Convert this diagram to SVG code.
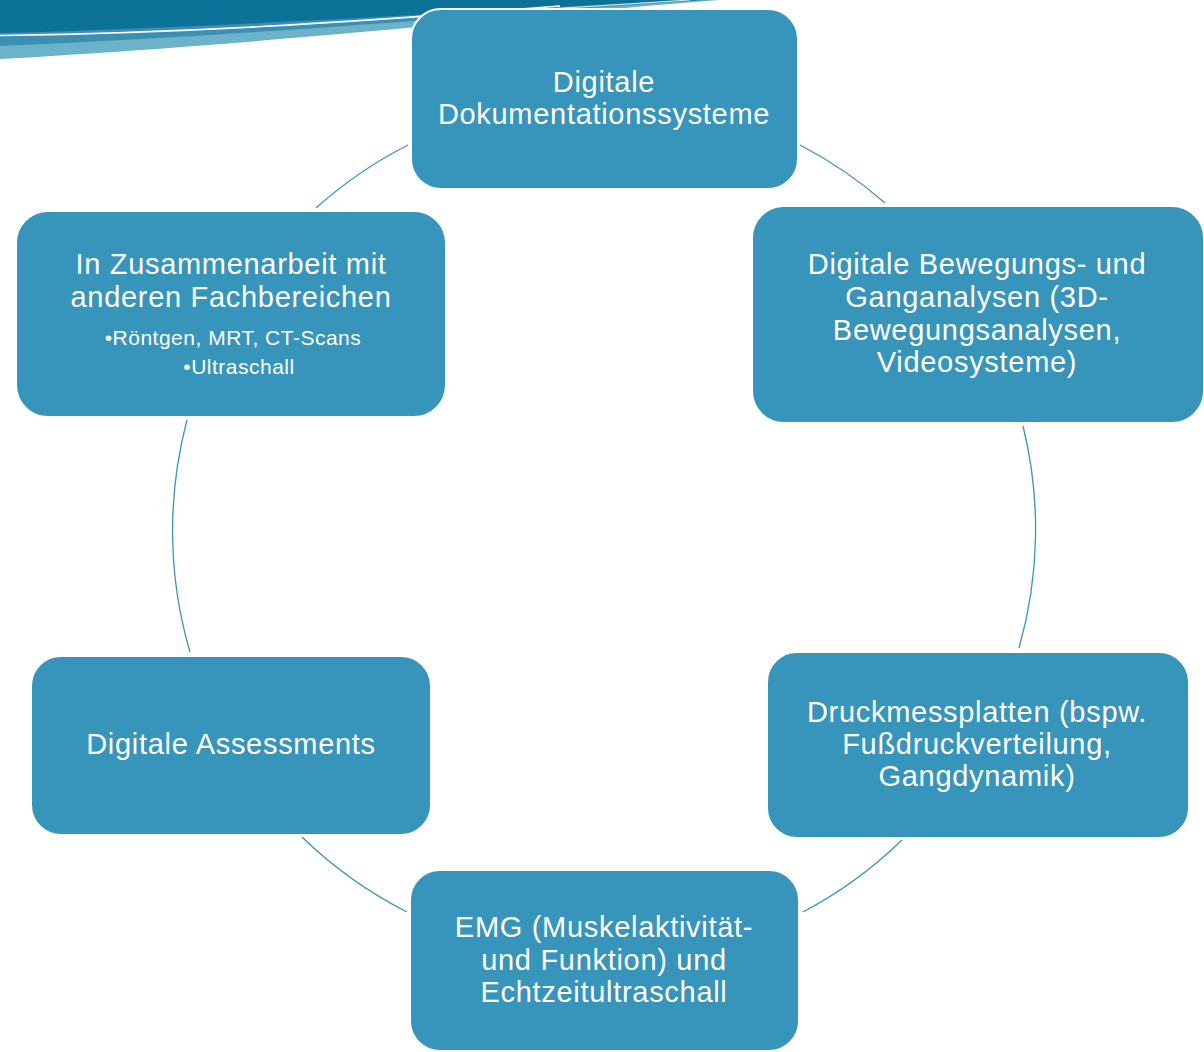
<svg xmlns="http://www.w3.org/2000/svg" width="1204" height="1052" viewBox="0 0 1204 1052">
<style>
.node{fill:#3794bb;stroke:#ffffff;stroke-width:2}
.t{font-family:"Liberation Sans",Arial,sans-serif;font-size:29px;letter-spacing:0.7px;fill:#ffffff;text-anchor:middle}
.s{font-family:"Liberation Sans",Arial,sans-serif;font-size:21px;letter-spacing:0.5px;fill:#ffffff;text-anchor:middle}
.arc{fill:none;stroke:#3a94bb;stroke-width:1.3}
</style>
<rect width="1204" height="1052" fill="#ffffff"/>
<g id="swoosh">
<path d="M0,0 H720 C 560,12 300,42 0,59 Z" fill="#6db2cb"/>
<path d="M0,0 H710 C 540,10 280,34 0,46 Z" fill="#3b8fb1"/>
<path d="M0,0 H700 C 520,8 260,26 0,33 Z" fill="#0d7298"/>
<path d="M0,35.5 C 180,33 330,24 560,6" fill="none" stroke="#ffffff" stroke-width="1.6"/>
<path d="M440,16 C 540,10 620,4 690,0" fill="none" stroke="#cfe6ef" stroke-width="1.2"/>
</g>
<g id="connectors">
<path class="arc" d="M800,145 A431,431 0 0 1 885,203"/>
<path class="arc" d="M1023,426 A431,431 0 0 1 1019,648"/>
<path class="arc" d="M902,840 A431,431 0 0 1 803,912"/>
<path class="arc" d="M407,912 A431,431 0 0 1 302,837"/>
<path class="arc" d="M190,652 A431,431 0 0 1 187,420"/>
<path class="arc" d="M316,208 A431,431 0 0 1 408,145"/>
</g>
<g id="n1">
<rect class="node" x="411" y="9" width="387" height="180" rx="30"/>
<text class="t" x="604" y="92">Digitale</text>
<text class="t" x="604" y="124">Dokumentationssysteme</text>
</g>
<g id="n2">
<rect class="node" x="752" y="206" width="452" height="217" rx="32"/>
<text class="t" x="977" y="274">Digitale Bewegungs- und</text>
<text class="t" x="977" y="307">Ganganalysen (3D-</text>
<text class="t" x="977" y="340">Bewegungsanalysen,</text>
<text class="t" x="977" y="372">Videosysteme)</text>
</g>
<g id="n3">
<rect class="node" x="767" y="652" width="422" height="186" rx="30"/>
<text class="t" x="977" y="722">Druckmessplatten (bspw.</text>
<text class="t" x="977" y="754">Fußdruckverteilung,</text>
<text class="t" x="977" y="786">Gangdynamik)</text>
</g>
<g id="n4">
<rect class="node" x="410" y="870" width="389" height="181" rx="30"/>
<text class="t" x="604" y="937">EMG (Muskelaktivität-</text>
<text class="t" x="604" y="970">und Funktion) und</text>
<text class="t" x="604" y="1002">Echtzeitultraschall</text>
</g>
<g id="n5">
<rect class="node" x="31" y="656" width="400" height="179" rx="30"/>
<text class="t" x="231" y="754">Digitale Assessments</text>
</g>
<g id="n6">
<rect class="node" x="16" y="211" width="430" height="206" rx="32"/>
<text class="t" x="231" y="274">In Zusammenarbeit mit</text>
<text class="t" x="231" y="307">anderen Fachbereichen</text>
<text class="s" x="233" y="345">•Röntgen, MRT, CT-Scans</text>
<text class="s" x="239" y="374">•Ultraschall</text>
</g>
</svg>
